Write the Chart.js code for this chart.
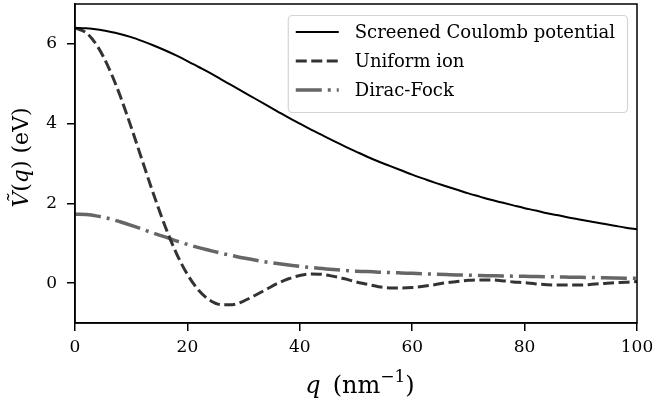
<!DOCTYPE html>
<html>
<head>
<meta charset="utf-8">
<script src="https://cdn.jsdelivr.net/npm/chart.js@4.4.1/dist/chart.umd.min.js"></script>
<style>
  html, body { margin: 0; padding: 0; background: #fff; }
  #wrap { width: 652px; height: 406px; }
</style>
</head>
<body>
<div id="wrap"><canvas id="chart" width="652" height="406"></canvas></div>
<script>
const q = [0, 2, 4, 6, 8, 10, 12, 14, 16, 18, 20, 22, 24, 26, 28, 30, 32, 34, 36, 38, 40,
  42, 44, 46, 48, 50, 52, 54, 56, 58, 60, 62, 64, 66, 68, 70, 72, 74, 76, 78, 80,
  82, 84, 86, 88, 90, 92, 94, 96, 98, 100];

const screenedCoulomb = [6.40, 6.39, 6.36, 6.31, 6.25, 6.17, 6.07, 5.96, 5.84, 5.71, 5.57,
  5.42, 5.27, 5.11, 4.95, 4.79, 4.63, 4.47, 4.31, 4.15, 4.00,
  3.85, 3.71, 3.57, 3.43, 3.30, 3.17, 3.05, 2.94, 2.83, 2.72,
  2.62, 2.52, 2.43, 2.34, 2.25, 2.17, 2.09, 2.02, 1.95, 1.88,
  1.82, 1.75, 1.70, 1.64, 1.59, 1.54, 1.49, 1.44, 1.39, 1.35];

const uniformIon = [6.40, 6.28, 5.94, 5.40, 4.71, 3.91, 3.06, 2.22, 1.44, 0.76, 0.22,
  -0.18, -0.43, -0.54, -0.54, -0.45, -0.31, -0.16, -0.01, 0.11, 0.19,
  0.23, 0.22, 0.17, 0.11, 0.03, -0.03, -0.09, -0.12, -0.12, -0.11,
  -0.08, -0.04, 0.01, 0.04, 0.07, 0.08, 0.08, 0.06, 0.03, 0.01,
  -0.02, -0.04, -0.05, -0.05, -0.05, -0.03, -0.01, 0.01, 0.02, 0.04];

const diracFock = [1.73, 1.72, 1.68, 1.62, 1.54, 1.45, 1.35, 1.25, 1.16, 1.06, 0.97,
  0.89, 0.82, 0.75, 0.69, 0.63, 0.58, 0.53, 0.49, 0.455, 0.42,
  0.39, 0.365, 0.34, 0.32, 0.30, 0.29, 0.275, 0.265, 0.255, 0.245,
  0.235, 0.225, 0.215, 0.205, 0.20, 0.19, 0.185, 0.18, 0.175, 0.17,
  0.165, 0.16, 0.155, 0.15, 0.145, 0.14, 0.135, 0.13, 0.125, 0.12];

const seriesNames = ["Screened Coulomb potential", "Uniform ion", "Dirac-Fock"];
const xTicks = [0, 20, 40, 60, 80, 100];
const yTicks = [0, 2, 4, 6];

const serif = "'DejaVu Serif', 'Liberation Serif', serif";

function points(ys) {
  return q.map((x, i) => ({ x, y: ys[i] }));
}

// frame on top/right, axis titles with italic math parts, legend box
const decorations = {
  id: "decorations",
  afterDraw(chart) {
    const { ctx, chartArea: a } = chart;
    ctx.save();
    ctx.strokeStyle = "#000";
    ctx.lineWidth = 1.5;
    ctx.strokeRect(a.left, a.top, a.right - a.left, a.bottom - a.top);

    // x title
    ctx.fillStyle = "#000";
    drawRich(ctx, [
      { t: "q", it: true },
      { t: "\u2002(nm" },
      { t: "\u22121", sup: true },
      { t: ")" }
    ], (a.left + a.right) / 2 + 4, 387, 24);

    // y title
    ctx.save();
    ctx.translate(22, (a.top + a.bottom) / 2 - 6);
    ctx.rotate(-Math.PI / 2);
    drawRich(ctx, [
      { t: "V\u0303", it: true },
      { t: "(" },
      { t: "q", it: true },
      { t: ") (eV)" }
    ], 0, 0, 22);
    ctx.restore();

    // legend
    ctx.font = "18px " + serif;
    const textW = Math.max(...seriesNames.map(s => ctx.measureText(s).width));
    const boxR = a.right - 10;
    const boxW = 8 + 43 + 16 + textW + 12;
    const boxL = boxR - boxW;
    const boxT = a.top + 11;
    const rowH = 29;
    const boxH = 14 + rowH * 3 - 4;
    ctx.beginPath();
    ctx.roundRect(boxL + 0.5, boxT + 0.5, boxW, boxH, 4);
    ctx.fillStyle = "rgba(255,255,255,0.85)";
    ctx.fill();
    ctx.strokeStyle = "#d4d4d4";
    ctx.lineWidth = 1.2;
    ctx.stroke();

    chart.data.datasets.forEach((ds, i) => {
      const cy = boxT + 17 + i * rowH;
      ctx.beginPath();
      ctx.setLineDash(ds.borderDash || []);
      ctx.strokeStyle = ds.borderColor;
      ctx.lineWidth = ds.borderWidth;
      ctx.moveTo(boxL + 8, cy);
      ctx.lineTo(boxL + 51, cy);
      ctx.stroke();
      ctx.setLineDash([]);
      ctx.fillStyle = "#000";
      ctx.font = "18px " + serif;
      ctx.textBaseline = "middle";
      ctx.fillText(ds.label, boxL + 67, cy + 1);
    });
    ctx.restore();
  }
};

function drawRich(ctx, parts, cx, y, size) {
  const fontFor = p => (p.it ? "italic " : "") + (p.sup ? Math.round(size * 0.7) : size) + "px " + serif;
  let total = 0;
  parts.forEach(p => { ctx.font = fontFor(p); p.w = ctx.measureText(p.t).width; total += p.w; });
  let x = cx - total / 2;
  ctx.textAlign = "left";
  ctx.textBaseline = "middle";
  parts.forEach(p => {
    ctx.font = fontFor(p);
    ctx.fillText(p.t, x, p.sup ? y - size * 0.38 : y);
    x += p.w;
  });
}

new Chart(document.getElementById("chart"), {
  type: "line",
  data: {
    datasets: [
      {
        label: seriesNames[0],
        data: points(screenedCoulomb),
        borderColor: "#000000",
        borderWidth: 2,
        pointRadius: 0,
        cubicInterpolationMode: "monotone"
      },
      {
        label: seriesNames[1],
        data: points(uniformIon),
        borderColor: "#333333",
        borderWidth: 3,
        borderDash: [11, 4.5],
        pointRadius: 0,
        cubicInterpolationMode: "monotone"
      },
      {
        label: seriesNames[2],
        data: points(diracFock),
        borderColor: "#666666",
        borderWidth: 3.5,
        borderDash: [26, 6, 3, 6],
        pointRadius: 0,
        cubicInterpolationMode: "monotone"
      }
    ]
  },
  options: {
    responsive: false,
    animation: false,
    layout: { padding: { top: 4, right: 15, left: 0, bottom: 0 } },
    plugins: {
      legend: { display: false },
      tooltip: { enabled: false }
    },
    scales: {
      x: {
        type: "linear",
        min: 0,
        max: 100,
        afterBuildTicks: s => { s.ticks = xTicks.map(v => ({ value: v })); },
        afterFit: s => { s.height = 83; s.paddingLeft = 0; s.paddingRight = 0; },
        ticks: { color: "#000", font: { family: serif, size: 17 }, padding: 6, maxRotation: 0 },
        grid: { drawOnChartArea: false, tickLength: 8, color: "#000", lineWidth: 1.5 },
        border: { color: "#000", width: 1.5 }
      },
      y: {
        min: -1,
        max: 7,
        afterBuildTicks: s => { s.ticks = yTicks.map(v => ({ value: v })); },
        afterFit: s => { s.width = 75; s.paddingTop = 0; s.paddingBottom = 0; },
        ticks: { color: "#000", font: { family: serif, size: 17 }, padding: 10 },
        grid: { drawOnChartArea: false, tickLength: 8, color: "#000", lineWidth: 1.5 },
        border: { color: "#000", width: 1.5 }
      }
    }
  },
  plugins: [decorations]
});
</script>
</body>
</html>
